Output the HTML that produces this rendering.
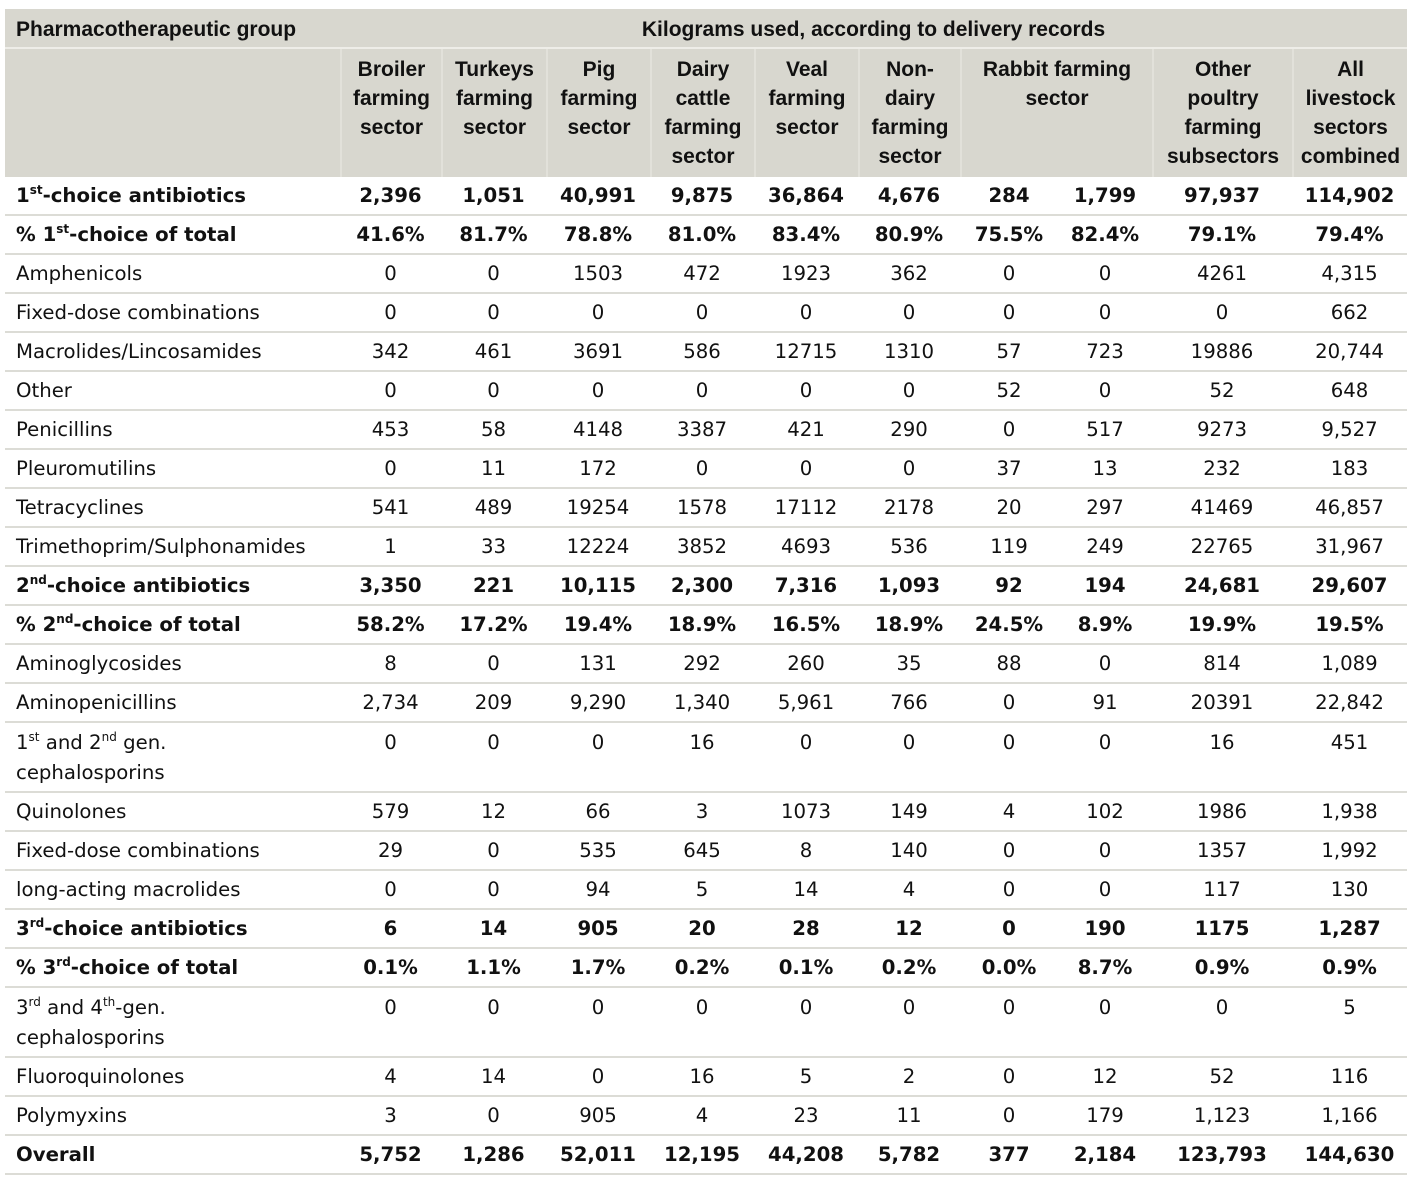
<!DOCTYPE html>
<html><head><meta charset="utf-8">
<style>
html,body{margin:0;padding:0;background:#fff;width:1413px;height:1179px;overflow:hidden}
table{position:absolute;left:5px;top:9px;border-collapse:separate;border-spacing:0;table-layout:fixed;width:1402px;font-family:"DejaVu Sans","Liberation Sans",sans-serif;font-size:19.7px;color:#111}
th{background:#d8d7cf;font-family:"Liberation Sans",sans-serif;font-weight:bold;font-size:21px;padding:0;text-align:center;vertical-align:top;color:#111}
th.h1{height:33px;padding-top:3px;line-height:35px;border-bottom:2px solid #eeede8;box-sizing:content-box}
th.lab{text-align:left;padding-left:11px}
th.h2{height:128px;line-height:29px;padding-top:6px;box-sizing:border-box;border-left:2px solid #e2e1da}
td{padding:0;line-height:37px;text-align:center;border-bottom:2px solid #dcdcd6;white-space:nowrap}
td.l{text-align:left;padding-left:11px}
tr.b td{font-weight:bold}
tr.t td{line-height:30px;padding-top:5px;padding-bottom:3px;vertical-align:top}
sup{font-size:12px;line-height:0;vertical-align:8px}
</style></head><body>
<table>
<colgroup><col style="width:335px"><col style="width:101px"><col style="width:105px"><col style="width:104px"><col style="width:104px"><col style="width:104px"><col style="width:102px"><col style="width:98px"><col style="width:94px"><col style="width:140px"><col style="width:115px"></colgroup>
<thead>
<tr><th class="h1 lab">Pharmacotherapeutic group</th><th class="h1" colspan="10">Kilograms used, according to delivery records</th></tr>
<tr><th class="h2" style="border-left:none"></th>
<th class="h2">Broiler<br>farming<br>sector</th>
<th class="h2">Turkeys<br>farming<br>sector</th>
<th class="h2">Pig<br>farming<br>sector</th>
<th class="h2">Dairy<br>cattle<br>farming<br>sector</th>
<th class="h2">Veal<br>farming<br>sector</th>
<th class="h2">Non-<br>dairy<br>farming<br>sector</th>
<th class="h2" colspan="2">Rabbit farming<br>sector</th>
<th class="h2">Other<br>poultry<br>farming<br>subsectors</th>
<th class="h2">All<br>livestock<br>sectors<br>combined</th></tr>
</thead>
<tbody id="tb"></tbody>
</table>
<script>
const labels=["1<sup>st</sup>-choice antibiotics","% 1<sup>st</sup>-choice of total","Amphenicols","Fixed-dose combinations","Macrolides/Lincosamides","Other","Penicillins","Pleuromutilins","Tetracyclines","Trimethoprim/Sulphonamides","2<sup>nd</sup>-choice antibiotics","% 2<sup>nd</sup>-choice of total","Aminoglycosides","Aminopenicillins","1<sup>st</sup> and 2<sup>nd</sup> gen.<br>cephalosporins","Quinolones","Fixed-dose combinations","long-acting macrolides","3<sup>rd</sup>-choice antibiotics","% 3<sup>rd</sup>-choice of total","3<sup>rd</sup> and 4<sup>th</sup>-gen.<br>cephalosporins","Fluoroquinolones","Polymyxins","Overall"];
const boldRows=[0,1,10,11,18,19,23];
const tallRows=[14,20];
const values=[
["2,396","1,051","40,991","9,875","36,864","4,676","284","1,799","97,937","114,902"],
["41.6%","81.7%","78.8%","81.0%","83.4%","80.9%","75.5%","82.4%","79.1%","79.4%"],
["0","0","1503","472","1923","362","0","0","4261","4,315"],
["0","0","0","0","0","0","0","0","0","662"],
["342","461","3691","586","12715","1310","57","723","19886","20,744"],
["0","0","0","0","0","0","52","0","52","648"],
["453","58","4148","3387","421","290","0","517","9273","9,527"],
["0","11","172","0","0","0","37","13","232","183"],
["541","489","19254","1578","17112","2178","20","297","41469","46,857"],
["1","33","12224","3852","4693","536","119","249","22765","31,967"],
["3,350","221","10,115","2,300","7,316","1,093","92","194","24,681","29,607"],
["58.2%","17.2%","19.4%","18.9%","16.5%","18.9%","24.5%","8.9%","19.9%","19.5%"],
["8","0","131","292","260","35","88","0","814","1,089"],
["2,734","209","9,290","1,340","5,961","766","0","91","20391","22,842"],
["0","0","0","16","0","0","0","0","16","451"],
["579","12","66","3","1073","149","4","102","1986","1,938"],
["29","0","535","645","8","140","0","0","1357","1,992"],
["0","0","94","5","14","4","0","0","117","130"],
["6","14","905","20","28","12","0","190","1175","1,287"],
["0.1%","1.1%","1.7%","0.2%","0.1%","0.2%","0.0%","8.7%","0.9%","0.9%"],
["0","0","0","0","0","0","0","0","0","5"],
["4","14","0","16","5","2","0","12","52","116"],
["3","0","905","4","23","11","0","179","1,123","1,166"],
["5,752","1,286","52,011","12,195","44,208","5,782","377","2,184","123,793","144,630"]];
const tb=document.getElementById('tb');
labels.forEach((lab,i)=>{
  const tr=document.createElement('tr');
  
  
  if(boldRows.includes(i)) tr.className='b';
  if(tallRows.includes(i)) tr.className='t';
  const th=document.createElement('td');
  th.className='l';
  th.innerHTML=lab;
  
  
  tr.appendChild(th);
  values[i].forEach(v=>{
    const td=document.createElement('td');
    td.textContent=v;
    
    
    tr.appendChild(td);
  });
  tb.appendChild(tr);
});
</script>
</body></html>
